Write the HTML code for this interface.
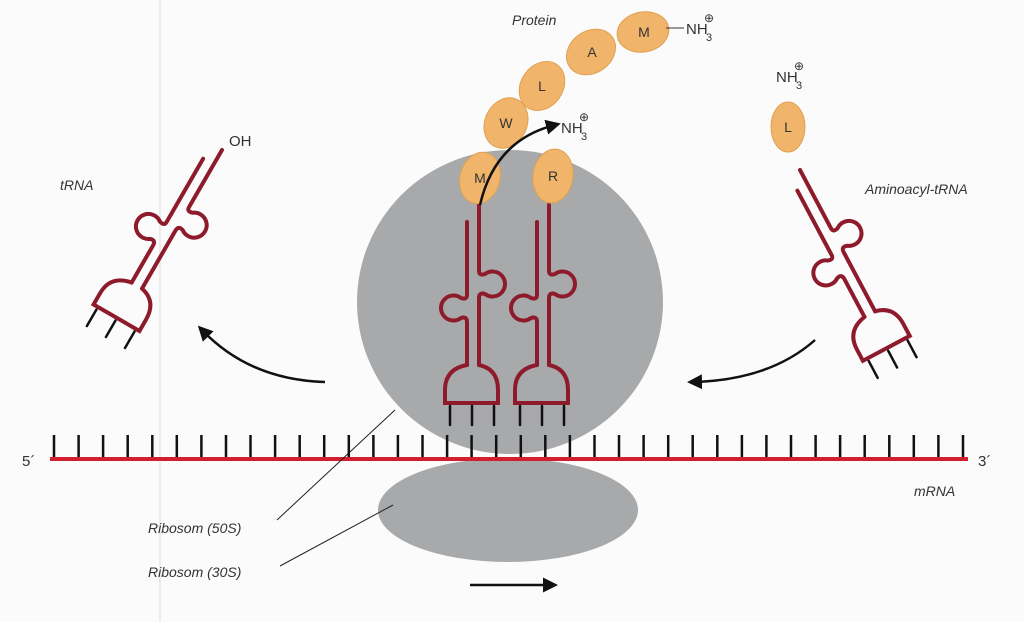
<!DOCTYPE html>
<html><head><meta charset="utf-8"><style>
html,body{margin:0;padding:0;background:#fbfbfb;}
svg{display:block;}
text{font-family:"Liberation Sans",sans-serif;fill:#333;}
.it{font-style:italic;font-size:14px;}
</style></head><body>
<svg width="1024" height="622" viewBox="0 0 1024 622" xmlns="http://www.w3.org/2000/svg">
<defs>
<g id="trna" fill="none" stroke="#8e1b2c" stroke-width="4" stroke-linecap="round">
  <path d="M0 0 L0 66 Q0 71 6 69 A12.5 12.5 0 1 1 6 89 Q0 87 0 93 L0 160"/>
  <path d="M-12 17 L-12 90 Q-12 95 -18 93 A12.5 12.5 0 1 0 -18 113 Q-12 111 -12 117 L-12 160"/>
  <path d="M-12 160 Q-34 164 -34 185 L-34 198 L19 198 L19 185 Q19 164 0 160"/>
  <g stroke="#111" stroke-width="2.5">
    <line x1="-29" y1="201" x2="-29" y2="220"/>
    <line x1="-7" y1="201" x2="-7" y2="220"/>
    <line x1="15" y1="201" x2="15" y2="220"/>
  </g>
</g>
<marker id="ah" viewBox="0 0 10 10" refX="6" refY="5" markerWidth="6" markerHeight="6" orient="auto"><path d="M0 0 L10 5 L0 10 z" fill="#111"/></marker>
</defs>
<line x1="160" y1="0" x2="160" y2="622" stroke="#ddd" stroke-width="1"/>
<ellipse cx="510" cy="302" rx="153" ry="152" fill="#a8a9ab"/>
<ellipse cx="508" cy="510" rx="130" ry="52" fill="#a8a9ab"/>
<line x1="50" y1="459" x2="968" y2="459" stroke="#d21f2d" stroke-width="4"/>
<use href="#trna" transform="translate(479,205)"/>
<use href="#trna" transform="translate(549,205)"/>
<use href="#trna" transform="translate(222,150) rotate(30)"/>
<use href="#trna" transform="translate(800,170) rotate(-28)"/>
<g fill="#f0b56b" stroke="#e0a050" stroke-width="1">
<ellipse cx="480" cy="178" rx="20" ry="26" transform="rotate(15 480 178)"/>
<ellipse cx="506" cy="123" rx="21" ry="26" transform="rotate(25 506 123)"/>
<ellipse cx="542" cy="86" rx="21" ry="26" transform="rotate(35 542 86)"/>
<ellipse cx="591" cy="52" rx="21" ry="26" transform="rotate(55 591 52)"/>
<ellipse cx="643" cy="32" rx="20" ry="26" transform="rotate(80 643 32)"/>
<ellipse cx="553" cy="176" rx="20" ry="27" transform="rotate(8 553 176)"/>
<ellipse cx="788" cy="127" rx="17" ry="25"/>
</g>
<g font-size="14" text-anchor="middle">
<text x="480" y="183">M</text><text x="506" y="128">W</text><text x="542" y="91">L</text>
<text x="592" y="57">A</text><text x="644" y="37">M</text><text x="553" y="181">R</text><text x="788" y="132">L</text>
</g>
<g font-size="15">
<text x="686" y="34">NH</text><text x="706" y="41" font-size="11">3</text><text x="704" y="22" font-size="12">⊕</text>
<text x="561" y="133">NH</text><text x="581" y="140" font-size="11">3</text><text x="579" y="121" font-size="12">⊕</text>
<text x="776" y="82">NH</text><text x="796" y="89" font-size="11">3</text><text x="794" y="70" font-size="12">⊕</text>
<text x="229" y="146">OH</text>
</g>
<line x1="666" y1="28" x2="684" y2="28" stroke="#333" stroke-width="1"/>
<g fill="none" stroke="#111" stroke-width="2.5" marker-end="url(#ah)">
<path d="M480 205 Q495 140 555 125"/>
<path d="M325 382 Q250 380 202 330"/>
<path d="M815 340 Q770 380 693 382"/>
<line x1="470" y1="585" x2="552" y2="585"/>
</g>
<g stroke="#222" stroke-width="1">
<line x1="277" y1="520" x2="395" y2="410"/>
<line x1="280" y1="566" x2="393" y2="505"/>
</g>
<text class="it" x="148" y="533">Ribosom (50S)</text>
<text class="it" x="148" y="577">Ribosom (30S)</text>
<text class="it" x="914" y="496">mRNA</text>
<text class="it" x="60" y="190">tRNA</text>
<text class="it" x="512" y="25">Protein</text>
<text class="it" x="865" y="194">Aminoacyl-tRNA</text>
<text x="22" y="466" font-size="15">5´</text>
<text x="978" y="466" font-size="15">3´</text>
<g stroke="#111" stroke-width="2.5">
<line x1="54" y1="435" x2="54" y2="457"/><line x1="78.6" y1="435" x2="78.6" y2="457"/><line x1="103.1" y1="435" x2="103.1" y2="457"/><line x1="127.7" y1="435" x2="127.7" y2="457"/><line x1="152.3" y1="435" x2="152.3" y2="457"/><line x1="176.8" y1="435" x2="176.8" y2="457"/><line x1="201.4" y1="435" x2="201.4" y2="457"/><line x1="226" y1="435" x2="226" y2="457"/><line x1="250.5" y1="435" x2="250.5" y2="457"/><line x1="275.1" y1="435" x2="275.1" y2="457"/><line x1="299.7" y1="435" x2="299.7" y2="457"/><line x1="324.2" y1="435" x2="324.2" y2="457"/><line x1="348.8" y1="435" x2="348.8" y2="457"/><line x1="373.4" y1="435" x2="373.4" y2="457"/><line x1="397.9" y1="435" x2="397.9" y2="457"/><line x1="422.5" y1="435" x2="422.5" y2="457"/><line x1="447.1" y1="435" x2="447.1" y2="457"/><line x1="471.6" y1="435" x2="471.6" y2="457"/><line x1="496.2" y1="435" x2="496.2" y2="457"/><line x1="520.8" y1="435" x2="520.8" y2="457"/><line x1="545.3" y1="435" x2="545.3" y2="457"/><line x1="569.9" y1="435" x2="569.9" y2="457"/><line x1="594.5" y1="435" x2="594.5" y2="457"/><line x1="619" y1="435" x2="619" y2="457"/><line x1="643.6" y1="435" x2="643.6" y2="457"/><line x1="668.2" y1="435" x2="668.2" y2="457"/><line x1="692.7" y1="435" x2="692.7" y2="457"/><line x1="717.3" y1="435" x2="717.3" y2="457"/><line x1="741.9" y1="435" x2="741.9" y2="457"/><line x1="766.4" y1="435" x2="766.4" y2="457"/><line x1="791" y1="435" x2="791" y2="457"/><line x1="815.6" y1="435" x2="815.6" y2="457"/><line x1="840.1" y1="435" x2="840.1" y2="457"/><line x1="864.7" y1="435" x2="864.7" y2="457"/><line x1="889.3" y1="435" x2="889.3" y2="457"/><line x1="913.8" y1="435" x2="913.8" y2="457"/><line x1="938.4" y1="435" x2="938.4" y2="457"/><line x1="963" y1="435" x2="963" y2="457"/>
</g>
</svg>
</body></html>
